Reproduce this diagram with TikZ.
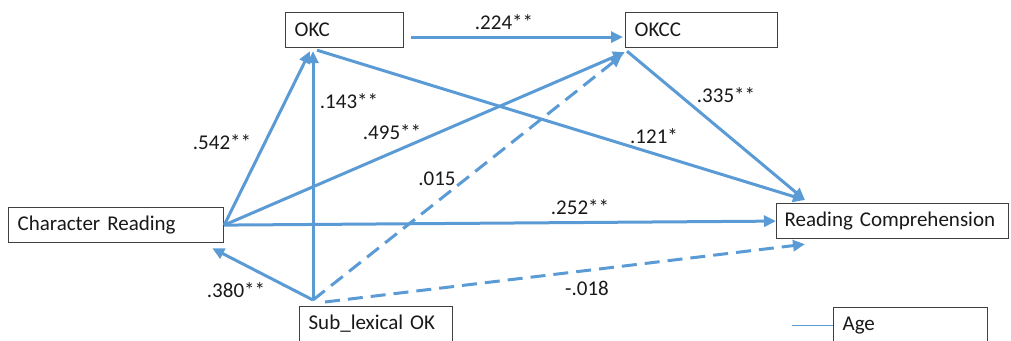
\documentclass[tikz,border=0pt]{standalone}
\usepackage{fontspec}
\setmainfont{Carlito}
\usetikzlibrary{arrows.meta}
\definecolor{pathblue}{RGB}{91,155,213}
\begin{document}
\begin{tikzpicture}[x=1pt,y=-1pt,
  box/.style={draw=black!75, line width=1.2pt, fill=white, anchor=north west,
    inner xsep=9pt, inner ysep=0pt, minimum height=35pt, align=left,
    font=\fontsize{21}{25}\selectfont, text=black!90},
  lbl/.style={font=\fontsize{21}{25}\selectfont, text=black!90, inner sep=0pt},
  link/.style={draw=pathblue, line width=3pt, -{Triangle[length=12pt,width=11pt]}},
  dlink/.style={link, dash pattern=on 15pt off 8pt}]
\useasboundingbox (0,0) rectangle (1011,340);
\clip (0,0) rectangle (1011,340);

% variables
\node[box, text width=100pt] (okc) at (285,12) {OKC};
\node[box, text width=134pt] (okcc) at (625,12) {OKCC};
\node[box, text width=197pt] (cr) at (8,207) {Character Reading};
\node[box, inner xsep=8pt, text width=216pt] (rc) at (776,203) {Reading Comprehension};
\node[box, text width=135pt] (sub) at (299,306) {Sub\_lexical OK};
\node[box, text width=136pt] (age) at (833,307) {Age};

% attachment points
\coordinate (subout) at ([xshift=14pt,yshift=6pt]sub.north west);
\coordinate (rctop) at ([xshift=29pt,yshift=3pt]rc.north west);

% paths
\draw[link] ([xshift=7pt,yshift=-7pt]okc.east) -- ([xshift=-2pt,yshift=-7pt]okcc.west);
\draw[link] (cr.east) -- ([xshift=25pt,yshift=-3pt]okc.south west);
\draw[link] (subout) -- ([xshift=28pt,yshift=-3pt]okc.south west);
\draw[link] ([xshift=32pt,yshift=-2pt]okc.south west) -- (rctop);
\draw[link] (cr.east) -- ([yshift=-4pt]okcc.south west);
\draw[link] ([xshift=2pt,yshift=-3pt]okcc.south west) -- (rctop);
\draw[dlink] (subout) -- ([xshift=-3pt,yshift=-7pt]okcc.south west);
\draw[link] (cr.east) -- (rc.west);
\draw[link] (subout) -- ([xshift=-12pt,yshift=-5pt]cr.south east);
\draw[dlink] ([xshift=26pt,yshift=4pt]sub.north west) -- ([xshift=29pt,yshift=-5pt]rc.south west);

% age covariate tick
\coordinate (agetick) at ([xshift=-41pt]age.west);
\draw[pathblue, line width=1pt] (agetick) -- (age.west);

% coefficients
\node[lbl] (l224) at (504,22) {.224**};
\node[lbl] (l143) at (349,101) {.143**};
\node[lbl] (l542) at (222,142) {.542**};
\node[lbl] (l495) at (392,132) {.495**};
\node[lbl] (l015) at (437,179) {.015};
\node[lbl] (l335) at (726,95) {.335**};
\node[lbl] (l121) at (654,136) {.121*};
\node[lbl] (l252) at (580,207) {.252**};
\node[lbl] (l380) at (236,290) {.380**};
\node[lbl] (l018) at (587,288) {-.018};
\end{tikzpicture}
\end{document}
